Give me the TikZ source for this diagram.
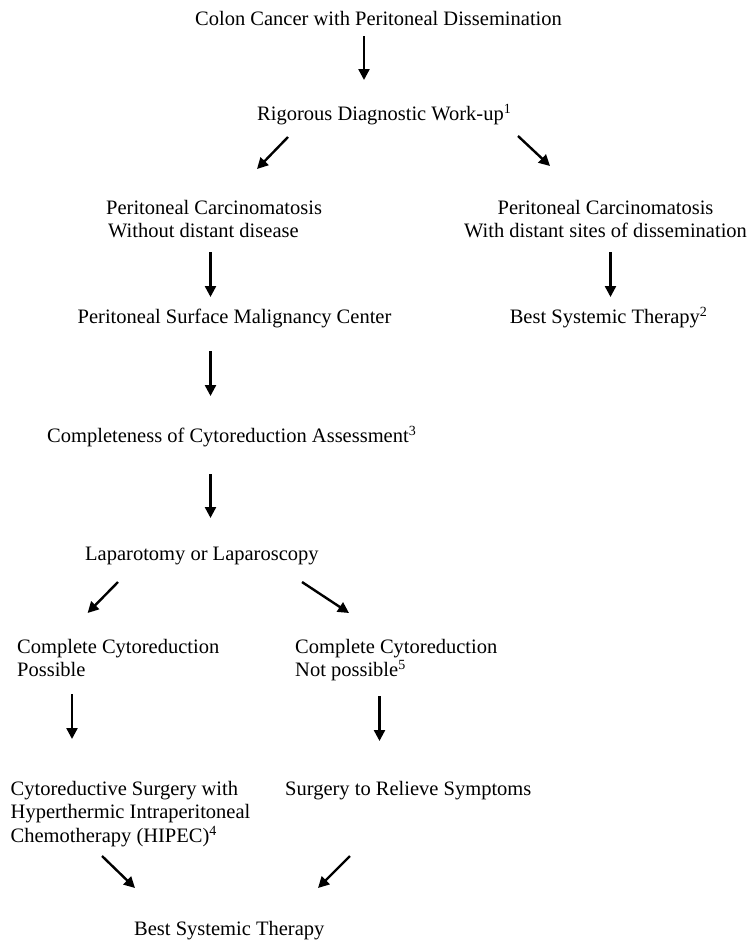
\documentclass[tikz,border=0pt]{standalone}
\usepackage{fontspec}
\setmainfont{Liberation Serif}
\usetikzlibrary{arrows.meta}
\newcommand{\supr}[1]{\raisebox{7pt}{\fontsize{14}{14}\selectfont #1}}
\begin{document}
\begin{tikzpicture}[x=1pt,y=-1pt,
  txt/.style={inner sep=0pt, anchor=base west, font=\fontsize{20.5}{23.5}\selectfont},
  arr/.style={line width=2.4pt, -{Triangle[length=11pt,width=11pt]}}]
\useasboundingbox (0,0) rectangle (748,943);
\node[txt] (title) at (195,25) {Colon Cancer with Peritoneal Dissemination};
\node[txt] (rig) at (257,120) {Rigorous Diagnostic Work-up\supr{1}};
\node[txt] (pcl) at (106,214) {\begin{tabular}[t]{@{}l@{}}Peritoneal Carcinomatosis\\ \hspace{2pt}Without distant disease\end{tabular}};
\node[txt] (pcr) at (464,214) {\begin{tabular}[t]{@{}c@{}}Peritoneal Carcinomatosis\\ With distant sites of dissemination\end{tabular}};
\node[txt] (psm) at (77.5,323) {Peritoneal Surface Malignancy Center};
\node[txt] (bst2) at (509.6,323) {Best Systemic Therapy\supr{2}};
\node[txt] (cca) at (47,442) {Completeness of Cytoreduction Assessment\supr{3}};
\node[txt] (lap) at (85,560) {Laparotomy or Laparoscopy};
\node[txt] (ccp) at (17,653) {\begin{tabular}[t]{@{}l@{}}Complete Cytoreduction\\ Possible\end{tabular}};
\node[txt] (ccn) at (295,653) {\begin{tabular}[t]{@{}l@{}}Complete Cytoreduction\\ Not possible\supr{5}\end{tabular}};
\node[txt] (crs) at (10.5,795) {\begin{tabular}[t]{@{}l@{}}Cytoreductive Surgery with\\ Hyperthermic Intraperitoneal\\ Chemotherapy (HIPEC)\supr{4}\end{tabular}};
\node[txt] (srs) at (285,795) {Surgery to Relieve Symptoms};
\node[txt] (bst) at (134,935) {Best Systemic Therapy};

\draw[arr] ([shift={(169,11)}]title.base west) -- ([shift={(107,-40)}]rig.base west);
\draw[arr] ([shift={(31,17)}]rig.base west) -- ([shift={(151,-45)}]pcl.base west);
\draw[arr] ([shift={(261,16)}]rig.base west) -- ([shift={(86,-48)}]pcr.base west);
\draw[arr] ([shift={(104.5,38)}]pcl.base west) -- ([shift={(133,-26)}]psm.base west);
\draw[arr] ([shift={(146.5,38)}]pcr.base west) -- ([shift={(100.9,-26)}]bst2.base west);
\draw[arr] ([shift={(133,28)}]psm.base west) -- ([shift={(163.5,-46)}]cca.base west);
\draw[arr] ([shift={(163.5,32)}]cca.base west) -- ([shift={(125.5,-42)}]lap.base west);
\draw[arr] ([shift={(33,22)}]lap.base west) -- ([shift={(70.6,-40)}]ccp.base west);
\draw[arr] ([shift={(217,22)}]lap.base west) -- ([shift={(54,-40)}]ccn.base west);
\draw[arr] ([shift={(55,41)}]ccp.base west) -- ([shift={(61.5,-56)}]crs.base west);
\draw[arr] ([shift={(84.5,43)}]ccn.base west) -- ([shift={(94.5,-54)}]srs.base west);
\draw[arr] ([shift={(91.5,61)}]crs.base west) -- ([shift={(1,-47)}]bst.base west);
\draw[arr] ([shift={(65,61)}]srs.base west) -- ([shift={(184,-47)}]bst.base west);
\end{tikzpicture}
\end{document}
